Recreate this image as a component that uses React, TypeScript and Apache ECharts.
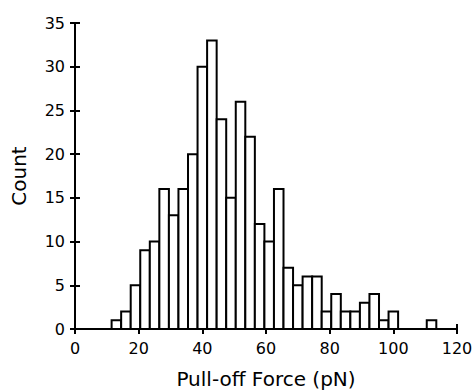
import React, { useEffect, useRef } from "react";
import * as echarts from "echarts";

// Histogram bins (pN) — bin centers and counts
const binCenters = [13, 16, 19, 22, 25, 28, 31, 34, 37, 40, 43, 46, 49, 52, 55, 58, 61, 64, 67, 70, 73, 76, 79, 82, 85, 88, 91, 94, 97, 100, 103, 106, 109, 112];
const binCounts = [1, 2, 5, 9, 10, 16, 13, 16, 20, 30, 33, 24, 15, 26, 22, 12, 10, 16, 7, 5, 6, 6, 2, 4, 2, 2, 3, 4, 1, 2, 0, 0, 0, 1];
const binWidth = 3;
const xTitle = "Pull-off Force (pN)";
const yTitle = "Count";

export default function App() {
  const ref = useRef<HTMLDivElement>(null);
  useEffect(() => {
    document.body.style.margin = "0";
    if (!ref.current) return;
    const chart = echarts.init(ref.current, null, { renderer: "svg" });
    const font = "DejaVu Sans";
    const data = binCenters
      .map((c, i) => [c, binCounts[i]])
      .filter((d) => d[1] > 0);
    const axisLine = { show: true, lineStyle: { color: "#000", width: 2 } };
    const axisTick = { show: true, inside: true, length: 5, lineStyle: { color: "#000", width: 2 } };
    chart.setOption({
      animation: false,
      backgroundColor: "#fff",
      grid: { left: 75, top: 23, right: 15, bottom: 61, containLabel: false, outerBoundsMode: "none" },
      xAxis: [
        {
          type: "value",
          min: 0,
          max: 120,
          interval: 20,
          position: "bottom",
          name: xTitle,
          nameLocation: "middle",
          nameGap: 40,
          nameTextStyle: { color: "#000", fontFamily: font, fontSize: 20 },
          axisLine,
          axisTick,
          splitLine: { show: false },
          axisLabel: { color: "#000", fontFamily: font, fontSize: 16, margin: 11 },
        },
        {
          type: "value",
          min: 0,
          max: 120,
          interval: 20,
          position: "top",
          axisLine,
          axisTick,
          splitLine: { show: false },
          axisLabel: { show: false },
        },
      ],
      yAxis: [
        {
          type: "value",
          min: 0,
          max: 35,
          interval: 5,
          position: "left",
          name: yTitle,
          nameLocation: "middle",
          nameGap: 46,
          nameTextStyle: { color: "#000", fontFamily: font, fontSize: 20 },
          axisLine,
          axisTick,
          splitLine: { show: false },
          axisLabel: { color: "#000", fontFamily: font, fontSize: 16, margin: 10 },
        },
        {
          type: "value",
          min: 0,
          max: 35,
          interval: 5,
          position: "right",
          axisLine,
          axisTick,
          splitLine: { show: false },
          axisLabel: { show: false },
        },
      ],
      series: [
        {
          type: "custom",
          xAxisIndex: 0,
          yAxisIndex: 0,
          clip: false,
          data,
          renderItem: (params: any, api: any) => {
            const c = api.value(0);
            const n = api.value(1);
            const p0 = api.coord([c - binWidth / 2, n]);
            const p1 = api.coord([c + binWidth / 2, 0]);
            return {
              type: "rect",
              shape: { x: p0[0], y: p0[1], width: p1[0] - p0[0], height: p1[1] - p0[1] },
              style: { fill: "#fff", stroke: "#000", lineWidth: 2 },
            };
          },
        },
      ],
    });
    return () => chart.dispose();
  }, []);
  return <div ref={ref} style={{ width: 472, height: 390 }} />;
}
